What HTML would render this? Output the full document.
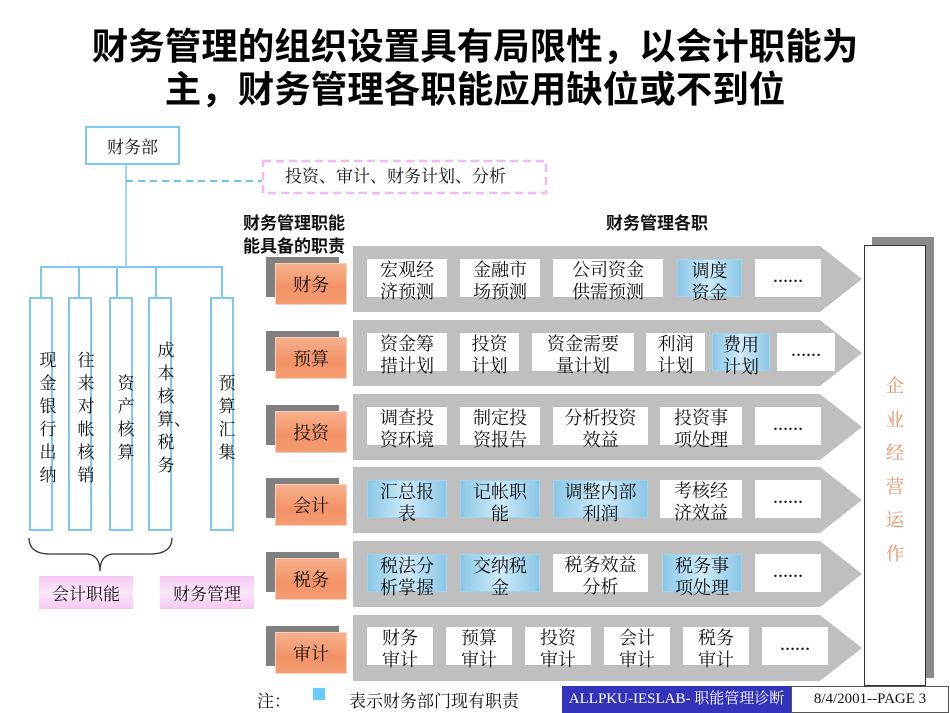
<!DOCTYPE html>
<html><head><meta charset="utf-8"><style>
*{margin:0;padding:0;box-sizing:border-box}
body{width:950px;height:713px;background:#fff;position:relative;overflow:hidden;font-family:"Liberation Serif","Noto Serif CJK SC","Noto Sans CJK SC",serif;color:#111}
.a{position:absolute}
.title{left:0;width:950px;top:25px;text-align:center;font-family:"Liberation Sans","Noto Sans CJK SC",sans-serif;font-weight:bold;font-size:36.5px;line-height:43px;color:#000}
.col{position:absolute;border:2px solid #7cc8ee;width:24px;height:234px;top:297px}
.ct{position:absolute;font-size:17px;line-height:23px;width:18px;text-align:center}
.it{position:absolute;height:38px;background:#fff;text-align:center;font-size:18px;line-height:22px;padding-top:0}
.b{background:linear-gradient(90deg,#8cc8e6,#cfeaf8 50%,#8cc8e6);border:1px solid #9fd3ee}
.d{font-weight:bold;font-size:15px;line-height:38px}
.or{position:absolute;width:72px;height:42px;background:linear-gradient(180deg,#f7b08c,#f29266 60%,#f49c72);border:1px solid #fbd0bb;display:flex;align-items:center;justify-content:center;font-size:18px}
.sh{position:absolute;width:73px;height:40px;background:#808080}
.pk{position:absolute;height:33px;background:linear-gradient(180deg,#f6c8f4,#fbe6fb 50%,#f6c8f4);display:flex;align-items:center;justify-content:center;font-size:17px}
</style></head><body>
<div class="a title">财务管理的组织设置具有局限性，以会计职能为<br>主，财务管理各职能应用缺位或不到位</div>

<svg class="a" style="left:0;top:0" width="950" height="713">
<line x1="126" y1="165" x2="126" y2="267" stroke="#9fd6f2" stroke-width="2"/>
<line x1="126" y1="181" x2="262" y2="181" stroke="#6cc4ec" stroke-width="2" stroke-dasharray="7,5"/>
<polyline points="41,297 41,267 222,267 222,297" fill="none" stroke="#7cc8ee" stroke-width="2"/>
<line x1="79" y1="267" x2="79" y2="297" stroke="#7cc8ee" stroke-width="2"/>
<line x1="117" y1="267" x2="117" y2="297" stroke="#7cc8ee" stroke-width="2"/>
<line x1="156" y1="267" x2="156" y2="297" stroke="#7cc8ee" stroke-width="2"/>
<rect x="263" y="161" width="283" height="32" fill="none" stroke="#f2b8f0" stroke-width="2.5" stroke-dasharray="8,5"/>
<path d="M29,538 Q29,554 50,554 L88,554 Q100,556 100,571 Q100,556 112,554 L150,554 Q172,554 172,538" fill="none" stroke="#333" stroke-width="1.3"/>
<g fill="#bfbfbf">
<polygon points="353,246 820,246 862,279 820,312 353,312"/>
<polygon points="353,320 820,320 862,353 820,386 353,386"/>
<polygon points="353,394 820,394 862,427 820,460 353,460"/>
<polygon points="353,467 820,467 862,500 820,533 353,533"/>
<polygon points="353,541 820,541 862,574 820,607 353,607"/>
<polygon points="353,615 820,615 862,648 820,681 353,681"/>
</g>
<rect x="872" y="237" width="62" height="441" fill="#8a8a8a"/>
<rect x="864.5" y="245.5" width="61" height="440" fill="#fff" stroke="#333" stroke-width="1"/>
<rect x="313" y="688" width="12" height="12" fill="#66ccff"/>
</svg>

<div class="a" style="left:85px;top:126px;width:95px;height:39px;border:2px solid #7cc8ee;display:flex;align-items:center;justify-content:center;font-size:17px">财务部</div>
<div class="a" style="left:285px;top:166px;font-size:17px;line-height:22px">投资、审计、财务计划、分析</div>

<div class="col" style="left:29px"></div>
<div class="col" style="left:68px"></div>
<div class="col" style="left:109px"></div>
<div class="col" style="left:148px"></div>
<div class="col" style="left:210px"></div>
<div class="ct" style="left:39px;top:349px">现金银行出纳</div>
<div class="ct" style="left:77px;top:349px">往来对帐核销</div>
<div class="ct" style="left:117px;top:372px">资产核算</div>
<div class="ct" style="left:157px;top:339px">成本核算、税务</div>
<div class="ct" style="left:218px;top:372px">预算汇集</div>

<div class="pk" style="left:39px;top:576px;width:94px">会计职能</div>
<div class="pk" style="left:160px;top:576px;width:94px">财务管理</div>

<div class="a" style="left:243px;top:212px;font-family:'Liberation Sans','Noto Sans CJK SC',sans-serif;font-weight:bold;font-size:17px;line-height:23px">财务管理职能<br>能具备的职责</div>
<div class="a" style="left:606px;top:212px;font-family:'Liberation Sans','Noto Sans CJK SC',sans-serif;font-weight:bold;font-size:17px;line-height:23px">财务管理各职</div>

<div class="sh" style="left:266px;top:257px"></div><div class="or" style="left:275px;top:263px">财务</div>
<div class="sh" style="left:266px;top:331px"></div><div class="or" style="left:275px;top:337px">预算</div>
<div class="sh" style="left:266px;top:405px"></div><div class="or" style="left:275px;top:411px">投资</div>
<div class="sh" style="left:266px;top:478px"></div><div class="or" style="left:275px;top:484px">会计</div>
<div class="sh" style="left:266px;top:552px"></div><div class="or" style="left:275px;top:558px">税务</div>
<div class="sh" style="left:266px;top:626px"></div><div class="or" style="left:275px;top:632px">审计</div>

<div class="it" style="left:367px;top:259px;width:80px">宏观经<br>济预测</div>
<div class="it" style="left:460px;top:259px;width:80px">金融市<br>场预测</div>
<div class="it" style="left:553px;top:259px;width:110px">公司资金<br>供需预测</div>
<div class="it b" style="left:677px;top:259px;width:65px">调度<br>资金</div>
<div class="it d" style="left:755px;top:259px;width:66px">……</div>

<div class="it" style="left:367px;top:333px;width:80px">资金筹<br>措计划</div>
<div class="it" style="left:460px;top:333px;width:59px">投资<br>计划</div>
<div class="it" style="left:532px;top:333px;width:102px">资金需要<br>量计划</div>
<div class="it" style="left:646px;top:333px;width:59px">利润<br>计划</div>
<div class="it b" style="left:712px;top:333px;width:58px">费用<br>计划</div>
<div class="it d" style="left:777px;top:333px;width:58px">……</div>

<div class="it" style="left:367px;top:407px;width:80px">调查投<br>资环境</div>
<div class="it" style="left:460px;top:407px;width:80px">制定投<br>资报告</div>
<div class="it" style="left:553px;top:407px;width:95px">分析投资<br>效益</div>
<div class="it" style="left:660px;top:407px;width:82px">投资事<br>项处理</div>
<div class="it d" style="left:755px;top:407px;width:66px">……</div>

<div class="it b" style="left:367px;top:480px;width:80px">汇总报<br>表</div>
<div class="it b" style="left:460px;top:480px;width:80px">记帐职<br>能</div>
<div class="it b" style="left:553px;top:480px;width:95px">调整内部<br>利润</div>
<div class="it" style="left:660px;top:480px;width:82px">考核经<br>济效益</div>
<div class="it d" style="left:755px;top:480px;width:66px">……</div>

<div class="it b" style="left:367px;top:554px;width:80px">税法分<br>析掌握</div>
<div class="it b" style="left:460px;top:554px;width:80px">交纳税<br>金</div>
<div class="it" style="left:553px;top:554px;width:95px">税务效益<br>分析</div>
<div class="it b" style="left:662px;top:554px;width:80px">税务事<br>项处理</div>
<div class="it d" style="left:755px;top:554px;width:66px">……</div>

<div class="it" style="left:367px;top:627px;width:66px">财务<br>审计</div>
<div class="it" style="left:446px;top:627px;width:66px">预算<br>审计</div>
<div class="it" style="left:525px;top:627px;width:66px">投资<br>审计</div>
<div class="it" style="left:604px;top:627px;width:66px">会计<br>审计</div>
<div class="it" style="left:683px;top:627px;width:66px">税务<br>审计</div>
<div class="it d" style="left:762px;top:627px;width:66px">……</div>

<div class="a" style="left:885px;top:370px;width:20px;font-size:18px;line-height:33.5px;color:#f08a5c;text-align:center">企业经营运作</div>

<div class="a" style="left:257px;top:687px;font-size:17px">注：</div>
<div class="a" style="left:349px;top:687px;font-size:17px">表示财务部门现有职责</div>
<div class="a" style="left:562px;top:686px;width:229px;height:27px;background:#3333bb;color:#fff;font-size:15px;line-height:26px;text-align:center;white-space:nowrap">ALLPKU-IESLAB- 职能管理诊断</div>
<div class="a" style="left:791px;top:686px;width:158px;height:27px;border:1px solid #555;font-size:15px;line-height:25px;text-align:center">8/4/2001--PAGE 3</div>
</body></html>
